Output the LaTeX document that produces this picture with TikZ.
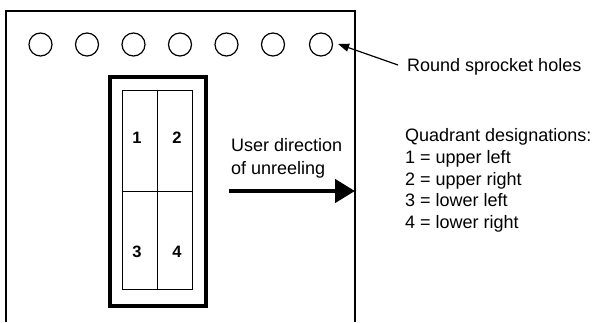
\documentclass[tikz,border=0pt]{standalone}
\usepackage{fontspec}
\setmainfont{Liberation Sans}
\usetikzlibrary{arrows.meta}
\begin{document}
\begin{tikzpicture}[x=1pt,y=-1pt,
  hole/.style={circle,draw,line width=1.2pt,minimum size=23pt,inner sep=0pt},
  lbl/.style={anchor=base west,inner sep=0pt,font=\fontsize{18}{21}\selectfont},
  num/.style={inner sep=0pt,font=\fontsize{16.5}{19}\selectfont\bfseries},
  film/.style={line width=1.4pt},
  frameouter/.style={draw,line width=3.8pt},
  frameinner/.style={draw,line width=0.9pt}]
\useasboundingbox[fill=white] (0,0) rectangle (595,322);
% film strip
\coordinate (fbl) at (6,322);
\coordinate (ftl) at (6,11);
\coordinate (ftr) at (355,11);
\coordinate (fbr) at (355,322);
\draw[film] (fbl) -- (ftl) -- (ftr) -- (fbr);
% sprocket holes
\foreach \i/\x in {1/40.5,2/87,3/133.5,4/180,5/226.5,6/273,7/321}
  \node[hole] (h\i) at (\x,44.5) {};
% frame
\node[frameouter,minimum width=96pt,minimum height=229pt,inner sep=0pt] (outer) at (158,191.5) {};
\node[frameinner,minimum width=70pt,minimum height=199pt,inner sep=0pt] (inner) at (157,189.5) {};
\draw[line width=0.9pt] (inner.north) -- (inner.south);
\draw[line width=0.9pt] (inner.west |- 0,191) coordinate (ml) -- (inner.east |- 0,191) coordinate (mr);
\node[num] (q1) at (137,138) {1};
\node[num] (q2) at (177,138) {2};
\node[num] (q3) at (137,252) {3};
\node[num] (q4) at (177,252) {4};
% direction
\node[lbl] (ud1) at (231,151.5) {User direction};
\node[lbl] (ud2) at (231,174.5) {of unreeling};
\coordinate (dtail) at (229,191);
\coordinate (dtip) at (355,191);
\draw[line width=4.5pt,-{Triangle[length=20pt,width=23pt]}] (dtail) -- (dtip);
% sprocket label
\node[lbl] (rsh) at (407,71) {Round sprocket holes};
\coordinate (stail) at (398,65);
\draw[line width=1.2pt,-{Triangle[length=11pt,width=8pt]}] (stail) -- ([xshift=5pt,yshift=0.5pt]h7.east);
% quadrant list
\node[lbl] (qd) at (405,141.5) {Quadrant designations:};
\node[lbl] (l1) at (405,163.5) {1 = upper left};
\node[lbl] (l2) at (405,185) {2 = upper right};
\node[lbl] (l3) at (405,206.5) {3 = lower left};
\node[lbl] (l4) at (405,228.5) {4 = lower right};
\end{tikzpicture}
\end{document}
